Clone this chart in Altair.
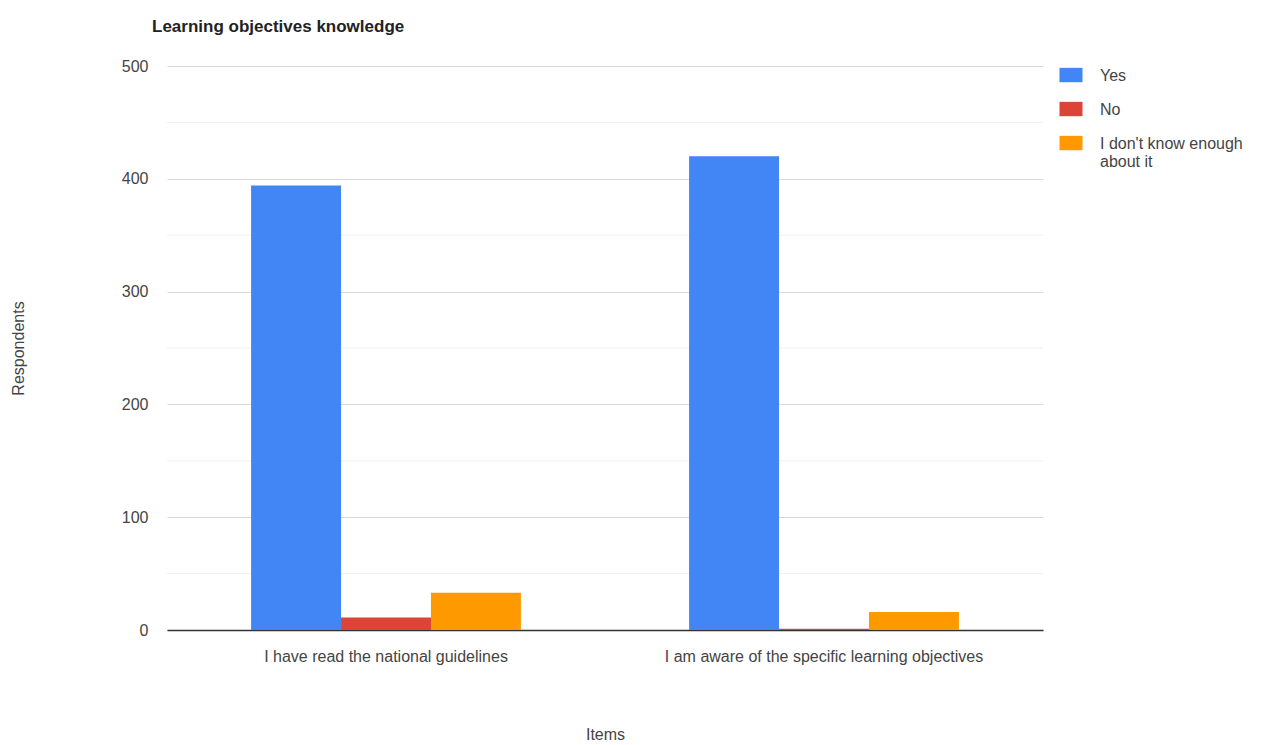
import altair as alt
import pandas as pd

items = ["I have read the national guidelines", "I am aware of the specific learning objectives"]
answers = ["Yes", "No", "I don't know enough about it"]
yes_vals = [394, 420]
no_vals = [11, 1]
dk_vals = [33, 16]
colors = ["#4285F4", "#DB4437", "#FF9900"]
y_ticks = [0, 100, 200, 300, 400, 500]
minor_grid = [50, 150, 250, 350, 450]

rows = []
for i, it in enumerate(items):
    for a, vals in zip(answers, [yes_vals, no_vals, dk_vals]):
        rows.append({"Items": it, "Answer": a, "Respondents": vals[i]})
df = pd.DataFrame(rows)
grid_df = pd.DataFrame({"Respondents": minor_grid})

FONT = "Liberation Sans"
FS = 16

y_axis = alt.Axis(title="Respondents", values=y_ticks,
                  domain=False, ticks=False, labelPadding=19, labelFontSize=FS,
                  labelColor="#444", labelFont=FONT, gridColor="#d9d9d9",
                  titleFont=FONT, titleFontSize=FS, titleFontWeight="normal",
                  titleColor="#444", titleX=-149, titleY=282, titleAngle=-90,
                  titleAlign="center", titleBaseline="middle")
y_scale = alt.Scale(domain=[0, 500])

minor = alt.Chart(grid_df).mark_rule(color="#f0f0f0", strokeWidth=1).encode(
    y=alt.Y("Respondents:Q", scale=y_scale, axis=y_axis)
)

bars = alt.Chart(df).mark_bar().encode(
    x=alt.X("Items:N", sort=items,
            scale=alt.Scale(paddingInner=0.384, paddingOuter=0.192),
            axis=alt.Axis(title="Items", labelAngle=0, labelFontSize=FS, labelColor="#444",
                          labelFont=FONT, labelPadding=18, ticks=False,
                          domainColor="#333", domainWidth=1.5,
                          titleFont=FONT, titleFontSize=FS, titleFontWeight="normal",
                          titleColor="#444", titleY=104, titleBaseline="middle", labelLimit=500)),
    xOffset=alt.XOffset("Answer:N", sort=answers, scale=alt.Scale(paddingInner=0, paddingOuter=0)),
    y=alt.Y("Respondents:Q", scale=y_scale, axis=y_axis),
    color=alt.Color("Answer:N", sort=answers,
                    scale=alt.Scale(domain=answers, range=colors),
                    legend=alt.Legend(title=None, orient="none", legendX=896, legendY=7,
                                      symbolType="M-1.6,-1.83H1.6V0.17H-1.6Z", symbolSize=207,
                                      symbolStrokeWidth=0, symbolOpacity=1,
                                      labelFont=FONT, labelFontSize=FS, labelColor="#444",
                                      labelOffset=21, rowPadding=17, labelLimit=220,
                                      labelBaseline="alphabetic",
                                      labelExpr="datum.label == \"I don't know enough about it\" ? [\"I don't know enough\", 'about it'] : datum.label"))
)

chart = alt.layer(minor, bars).properties(
    width=876, height=564,
    autosize=alt.AutoSizeParams(type="none"),
    padding={"left": 159, "top": 58, "right": 210, "bottom": 114},
    title=alt.TitleParams("Learning objectives knowledge", anchor="start", frame="group",
                          font=FONT, fontSize=17, fontWeight="bold", color="#222",
                          dx=-15, offset=22)
).configure_view(stroke=None)

chart.save("out.html", embed_options={"renderer": "svg", "actions": False})
